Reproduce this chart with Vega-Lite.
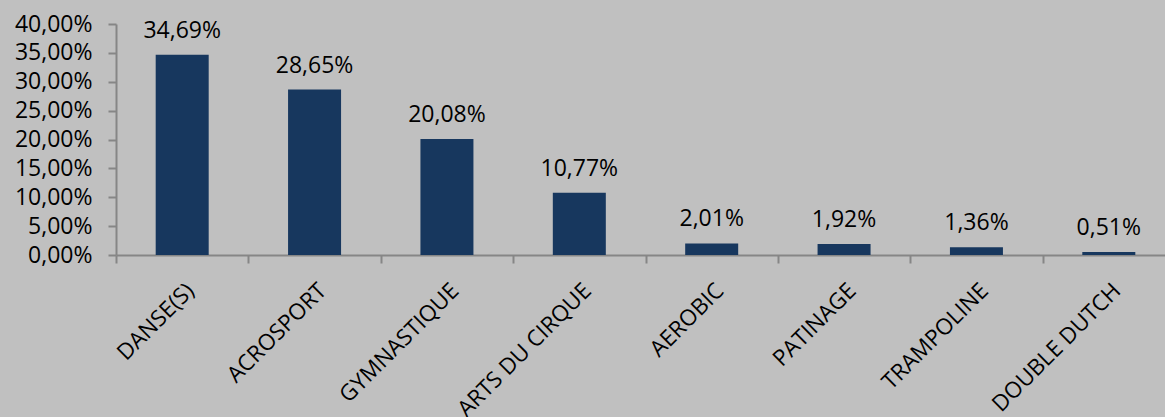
{
  "$schema": "https://vega.github.io/schema/vega-lite/v6.json",
  "autosize": {"type": "none"},
  "padding": {"left": 116, "top": 24, "right": 0, "bottom": 162},
  "width": 1049,
  "height": 231,
  "background": "#c0c0c0",
  "config": {
    "view": {"stroke": null},
    "locale": {"number": {"decimal": ",", "thousands": " ", "grouping": [3], "currency": ["", " €"]}},
    "font": "Open Sans"
  },
  "data": {
    "values": [
      {"sport": "DANSE(S)", "part": 0.3469},
      {"sport": "ACROSPORT", "part": 0.2865},
      {"sport": "GYMNASTIQUE", "part": 0.2008},
      {"sport": "ARTS DU CIRQUE", "part": 0.1077},
      {"sport": "AEROBIC", "part": 0.0201},
      {"sport": "PATINAGE", "part": 0.0192},
      {"sport": "TRAMPOLINE", "part": 0.0136},
      {"sport": "DOUBLE DUTCH", "part": 0.0051}
    ]
  },
  "encoding": {
    "x": {
      "field": "sport",
      "type": "nominal",
      "sort": null,
      "scale": {"range": [0, 1059], "paddingInner": 0, "paddingOuter": 0},
      "axis": {
        "title": null,
        "labelAngle": -45,
        "labelFont": "Open Sans",
        "labelFontSize": 22.5,
        "labelColor": "#000000",
        "labelPadding": 16,
        "domainColor": "#868686",
        "domainWidth": 2,
        "tickColor": "#868686",
        "tickWidth": 2,
        "tickSize": 8,
        "tickBand": "extent"
      }
    },
    "y": {
      "field": "part",
      "type": "quantitative",
      "scale": {"domain": [0, 0.4], "nice": false},
      "axis": {
        "title": null,
        "format": ".2%",
        "values": [0, 0.05, 0.1, 0.15, 0.2, 0.25, 0.3, 0.35, 0.4],
        "grid": false,
        "labelFont": "Open Sans",
        "labelFontSize": 23,
        "labelColor": "#000000",
        "labelPadding": 16,
        "domainColor": "#868686",
        "domainWidth": 2,
        "tickColor": "#868686",
        "tickWidth": 2,
        "tickSize": 8
      }
    }
  },
  "layer": [
    {"mark": {"type": "bar", "color": "#17375e", "size": 53}},
    {
      "mark": {"type": "text", "baseline": "alphabetic", "dy": -17, "font": "Open Sans", "fontSize": 23, "color": "#000000"},
      "encoding": {"text": {"field": "part", "type": "quantitative", "format": ".2%"}}
    }
  ]
}
